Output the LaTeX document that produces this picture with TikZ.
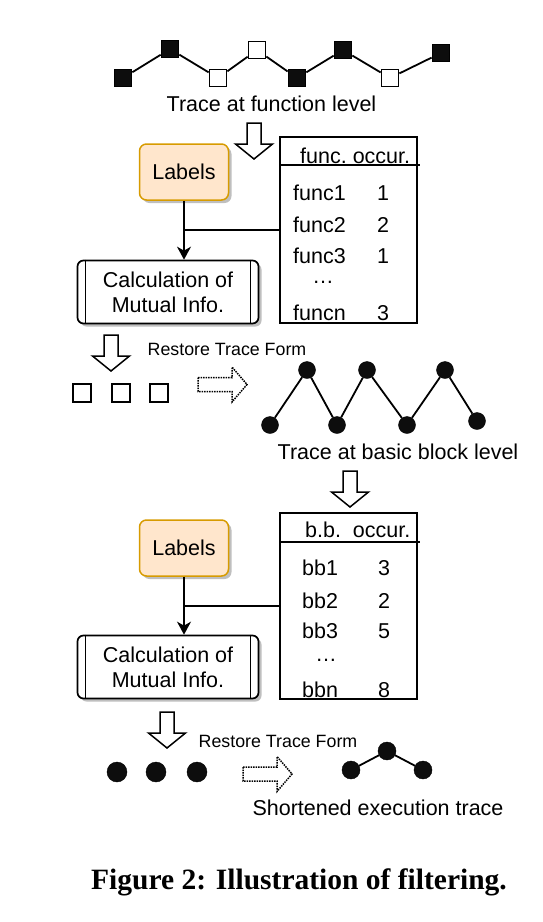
\documentclass[tikz,border=0pt]{standalone}
\usepackage{fontspec}
\setmainfont{Liberation Sans}
\newfontfamily\capfont{Liberation Serif}
\usepackage{xcolor}
\usetikzlibrary{calc}
\usetikzlibrary{shadows}
\usetikzlibrary{arrows.meta}
\tikzset{>={Stealth[length=13pt,width=14pt,inset=4pt]}}
\definecolor{labfill}{HTML}{FFE6CC}
\definecolor{labdraw}{HTML}{D79B00}
\tikzset{
	txt/.style={font=\fontsize{21.5}{25}\selectfont, inner sep=0pt},
	small/.style={font=\fontsize{17.8}{20}\selectfont, inner sep=0pt},
	conn/.style={line width=1.8pt, black},
	fsq/.style={draw=black, fill=black!95, line width=1.7pt, minimum size=17pt, inner sep=0pt},
	osq/.style={fsq, fill=white},
	fdot/.style={circle, draw=black, fill=black!95, minimum size=17pt, inner sep=0pt},
	labbox/.style={txt, draw=labdraw, fill=labfill, line width=1.5pt, rounded corners=7pt,
		minimum width=89pt, minimum height=56pt,
		drop shadow={shadow xshift=3pt, shadow yshift=-3pt, fill=black!25, opacity=1}},
	calcbox/.style={txt, draw=black, fill=white, line width=1.7pt, rounded corners=6pt,
		minimum width=181pt, minimum height=63pt, align=center,
		drop shadow={shadow xshift=3pt, shadow yshift=-3pt, fill=black!25, opacity=1}},
	tabbox/.style={draw=black, line width=1.6pt, minimum width=137pt, minimum height=186pt, inner sep=0pt},
	downarrow/.pic={
		\draw[line width=1.5pt, fill=white, line join=miter]
		(-7,0) -- (7,0) -- (7,21) -- (18.5,21) -- (0,36) -- (-18.5,21) -- (-7,21) -- cycle;
	},
	rightarrow/.pic={
		\draw[line width=1.5pt, densely dotted, line join=miter]
		(0,-7) -- (34,-7) -- (34,-17.5) -- (49,0) -- (34,17.5) -- (34,7) -- (0,7) -- cycle;
	}
}

\begin{document}
\begin{tikzpicture}[x=1pt, y=-1pt]
	\useasboundingbox (0,0) rectangle (542,922);

	%% Trace at function level
	\foreach \n/\x/\y/\s in {1/123/78/fsq, 2/170/49/fsq, 3/218/78/osq, 4/257/50/osq,
		5/297/78/fsq, 6/343/50/fsq, 7/390/78/osq, 8/441/53/fsq}
		\node[\s] (f\n) at (\x,\y) {};
	\foreach \a/\b in {1/2, 2/3, 3/4, 4/5, 5/6, 6/7, 7/8}
		\draw[conn] (f\a) -- (f\b);
	\node[txt, anchor=base] (ftitle) at (271.5,111) {Trace at function level};

	\pic at (254,123) {downarrow};

	%% First table
	\node[tabbox] (tab1) at (348.5,230) {};
	\coordinate (h1) at (280,165);
	\draw[line width=1.6pt] (h1) -- (h1 -| 420,0);
	\node[txt, anchor=base west] (th1) at (300,163) {func.\ occur.};
	\node[txt, anchor=base west] (n11) at (293,200) {func1};
	\node[txt, anchor=base] (v11) at (383,200) {1};
	\node[txt, anchor=base west] (n12) at (293,232) {func2};
	\node[txt, anchor=base] (v12) at (383,232) {2};
	\node[txt, anchor=base west] (n13) at (293,263) {func3};
	\node[txt, anchor=base] (v13) at (383,263) {1};
	\node[txt, anchor=base] (d1) at (323,283) {\dots};
	\node[txt, anchor=base west] (n1n) at (293,320) {funcn};
	\node[txt, anchor=base] (v1n) at (383,320) {3};

	%% Labels and mutual info
	\node[labbox] (lab1) at (184,172) {Labels};
	\node[calcbox] (calc1) at (168,292) {Calculation of\\Mutual Info.};
	\draw[line width=1.5pt] ([xshift=9pt]calc1.north west) -- ([xshift=9pt]calc1.south west);
	\draw[line width=1.5pt] ([xshift=-9pt]calc1.north east) -- ([xshift=-9pt]calc1.south east);
	\draw[conn, ->] (lab1.south) -- (calc1.north -| lab1.south);
	\draw[conn] (tab1.west) -- (tab1.west -| lab1.south);

	%% Restore trace form
	\pic at (111,335) {downarrow};
	\node[small, anchor=base] (rest1) at (227,355) {Restore Trace Form};
	\foreach \n/\x in {1/82, 2/121, 3/159}
		\node[osq, minimum size=17.5pt] (s\n) at (\x,393) {};
	\pic at (198,384.5) {rightarrow};

	%% Trace at basic block level
	\foreach \n/\x/\y in {1/270/425, 2/307/370, 3/337/425, 4/367/370,
		5/407/425, 6/445/370, 7/477/421}
		\node[fdot] (b\n) at (\x,\y) {};
	\foreach \a/\b in {1/2, 2/3, 3/4, 4/5, 5/6, 6/7}
		\draw[conn] (b\a) -- (b\b);
	\node[txt, anchor=base] (btitle) at (398,459) {Trace at basic block level};

	\pic at (350,471) {downarrow};

	%% Second table
	\node[tabbox] (tab2) at (348.5,606) {};
	\coordinate (h2) at (280,542);
	\draw[line width=1.6pt] (h2) -- (h2 -| 420,0);
	\node[txt, anchor=base west] (th2) at (305,537) {b.b.\ \ occur.};
	\node[txt, anchor=base west] (n21) at (302,575) {bb1};
	\node[txt, anchor=base] (v21) at (384,575) {3};
	\node[txt, anchor=base west] (n22) at (302,608) {bb2};
	\node[txt, anchor=base] (v22) at (384,608) {2};
	\node[txt, anchor=base west] (n23) at (302,638) {bb3};
	\node[txt, anchor=base] (v23) at (384,638) {5};
	\node[txt, anchor=base] (d2) at (326,661) {\dots};
	\node[txt, anchor=base west] (n2n) at (302,697) {bbn};
	\node[txt, anchor=base] (v2n) at (384,697) {8};

	%% Labels and mutual info
	\node[labbox] (lab2) at (184,548) {Labels};
	\node[calcbox] (calc2) at (168,667) {Calculation of\\Mutual Info.};
	\draw[line width=1.5pt] ([xshift=9pt]calc2.north west) -- ([xshift=9pt]calc2.south west);
	\draw[line width=1.5pt] ([xshift=-9pt]calc2.north east) -- ([xshift=-9pt]calc2.south east);
	\draw[conn, ->] (lab2.south) -- (calc2.north -| lab2.south);
	\draw[conn] (tab2.west) -- (tab2.west -| lab2.south);

	%% Restore trace form
	\pic at (167,712) {downarrow};
	\node[small, anchor=base] (rest2) at (278,747) {Restore Trace Form};
	\foreach \n/\x in {1/117, 2/156, 3/197}
		\node[fdot, minimum size=20pt] (p\n) at (\x,772) {};
	\pic at (243,774) {rightarrow};

	%% Shortened trace
	\node[fdot, minimum size=18pt] (t1) at (351,770) {};
	\node[fdot, minimum size=18pt] (t2) at (387,751) {};
	\node[fdot, minimum size=18pt] (t3) at (423,770) {};
	\draw[conn] (t1) -- (t2);
	\draw[conn] (t2) -- (t3);
	\node[txt, anchor=base] (stitle) at (378,815) {Shortened execution trace};

	%% Caption
	\node[anchor=base, inner sep=0pt, font=\capfont\bfseries\fontsize{29.5}{32}\selectfont] (cap) at (299,889) {Figure 2: Illustration of filtering.};

\end{tikzpicture}
\end{document}
